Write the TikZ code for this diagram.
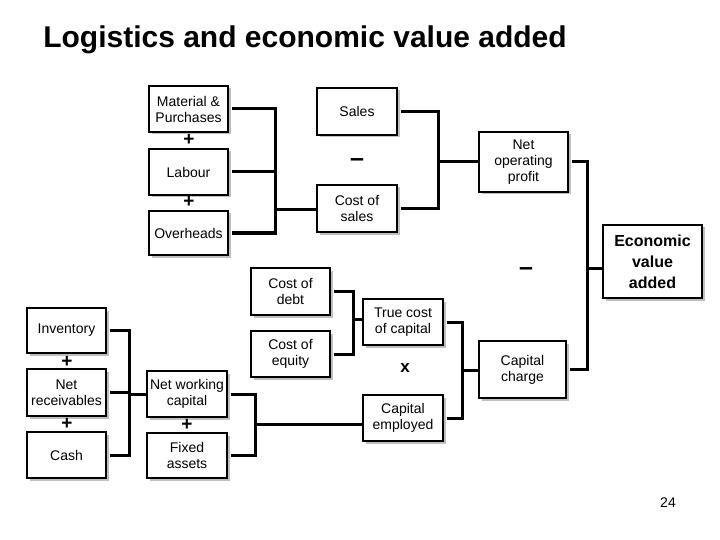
\documentclass[tikz,border=0pt]{standalone}
\usepackage{fontspec}
\setmainfont{Liberation Sans}
\usetikzlibrary{shadows}

\tikzset{
  box/.style={draw, line width=1.5pt, fill=white, align=center, inner sep=1pt,
    font=\fontsize{14}{16}\selectfont,
    drop shadow={shadow xshift=2.5pt, shadow yshift=-2.5pt, fill=black!25, opacity=1}},
  link/.style={line width=3pt},
  arm/.style={link, shorten <=3pt},
  op/.style={font=\bfseries\fontsize{19}{19}\selectfont, inner sep=0pt},
  minusop/.style={font=\bfseries\fontsize{25}{25}\selectfont, inner sep=0pt}
}

\begin{document}
\begin{tikzpicture}[x=1pt, y=-1pt]
    \useasboundingbox (0,0) rectangle (720,540);

    % Title
    \node[font=\bfseries\fontsize{30}{31}\selectfont] (title) at (305,40) {Logistics and economic value added};

    % Profit side
    \node[box, minimum width=79pt, minimum height=46pt] (mp) at (188.5,109) {Material \&\\Purchases};
    \node[box, minimum width=79pt, minimum height=46pt] (lab) at (188.5,172) {Labour};
    \node[box, minimum width=79pt, minimum height=44pt] (oh) at (188.5,233) {Overheads};
    \node[box, minimum width=80pt, minimum height=47pt] (sales) at (357,111.5) {Sales};
    \node[box, minimum width=80pt, minimum height=47pt] (cs) at (357,208.5) {Cost of\\sales};
    \node[box, minimum width=89pt, minimum height=60pt] (nop) at (523.5,162) {Net\\operating\\profit};
    \node[box, minimum width=99pt, minimum height=73pt, font=\bfseries\fontsize{16}{21}\selectfont] (eva) at (652.5,261.5) {Economic\\value\\added};

    % Capital side
    \node[box, minimum width=79pt, minimum height=47pt] (debt) at (290.5,291.5) {Cost of\\debt};
    \node[box, minimum width=79pt, minimum height=46pt] (equity) at (290.5,354) {Cost of\\equity};
    \node[box, minimum width=80pt, minimum height=46pt] (tcc) at (403,322) {True cost\\of capital};
    \node[box, minimum width=80pt, minimum height=46pt] (ce) at (403,418) {Capital\\employed};
    \node[box, minimum width=87pt, minimum height=57pt] (cc) at (522.5,369.5) {Capital\\charge};
    \node[box, minimum width=79pt, minimum height=45pt] (inv) at (66.5,330.5) {Inventory};
    \node[box, minimum width=79pt, minimum height=47pt] (rec) at (66.5,392.5) {Net\\receivables};
    \node[box, minimum width=79pt, minimum height=46pt] (cash) at (66.5,455) {Cash};
    \node[box, minimum width=80pt, minimum height=46pt] (nwc) at (187,394) {Net working\\capital};
    \node[box, minimum width=80pt, minimum height=45pt] (fa) at (187,455.5) {Fixed\\assets};

    % Operators
    \node[op] (plus1) at (189,140) {+};
    \node[op] (plus2) at (189,202) {+};
    \node[minusop] (minus1) at (357,163) {--};
    \node[minusop] (minus2) at (526,272) {--};
    \node[op] (plus3) at (67,362) {+};
    \node[op] (plus4) at (67,424) {+};
    \node[op] (plus5) at (187,425) {+};
    \node[op, font=\bfseries\fontsize{17}{17}\selectfont] (times) at (405,368) {x};

    % Junctions
    \coordinate (jA) at (275,210);
    \coordinate (jB) at (438,162);
    \coordinate (jC) at (587,268);
    \coordinate (jD) at (353,319);
    \coordinate (jE) at (462,370);
    \coordinate (jF) at (129,394);
    \coordinate (jG) at (255,424);

    % Brackets
    \draw[arm] (mp.east) -| (jA);
    \draw[arm] (oh.east) -| (jA);
    \draw[arm] (lab.east) -- (lab.east -| jA);
    \draw[link] (jA) -- (jA -| cs.west);

    \draw[arm] (sales.east) -| (jB);
    \draw[arm] (cs.east) -| (jB);
    \draw[link] (jB) -- (jB -| nop.west);

    \draw[arm] (nop.east) -| (jC);
    \draw[arm] (cc.east) -| (jC);
    \draw[link] (jC) -- (jC -| eva.west);

    \draw[arm] (debt.east) -| (jD);
    \draw[arm] (equity.east) -| (jD);
    \draw[link] (jD) -- (jD -| tcc.west);

    \draw[arm] (tcc.east) -| (jE);
    \draw[arm] (ce.east) -| (jE);
    \draw[link] (jE) -- (jE -| cc.west);

    \draw[arm] (inv.east) -| (jF);
    \draw[arm] (cash.east) -| (jF);
    \draw[arm] (rec.east) -- (rec.east -| jF);
    \draw[link] (jF) -- (jF -| nwc.west);

    \draw[arm] (nwc.east) -| (jG);
    \draw[arm] (fa.east) -| (jG);
    \draw[link] (jG) -- (jG -| ce.west);

    % Page number
    \node[font=\fontsize{14}{16}\selectfont] (page) at (668,503) {24};
\end{tikzpicture}
\end{document}
